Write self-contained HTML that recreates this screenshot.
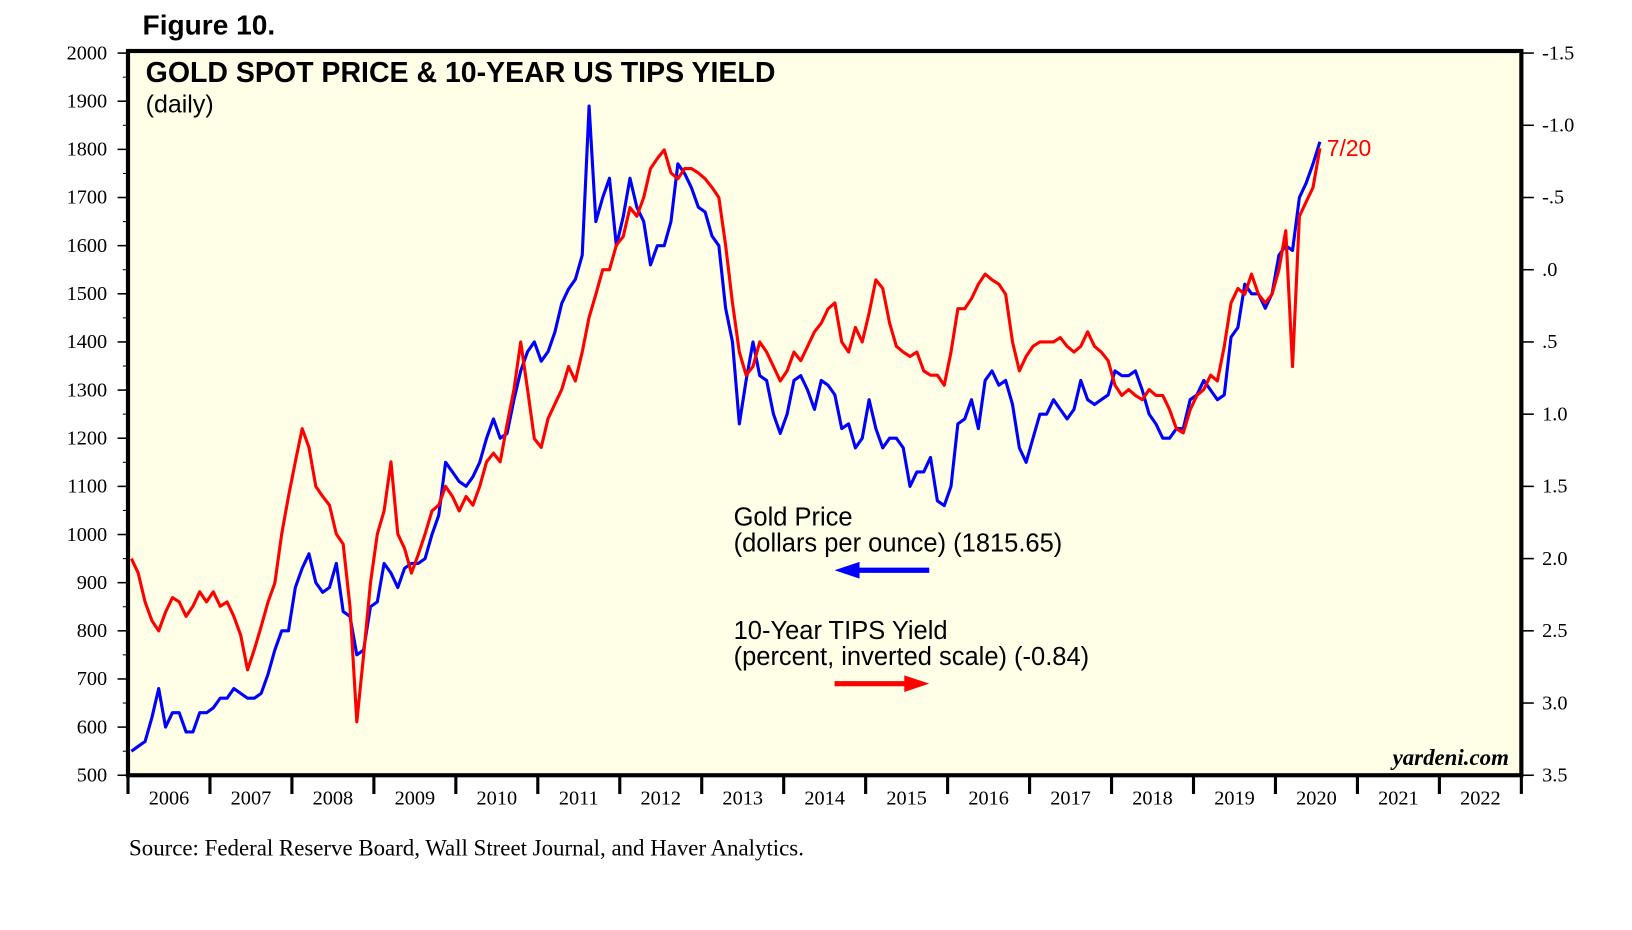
<!DOCTYPE html>
<html><head><meta charset="utf-8"><style>
html,body{margin:0;padding:0;background:#fff;}
svg{display:block;}
</style></head><body>
<svg id="chart" width="1632" height="930" xmlns="http://www.w3.org/2000/svg">
<g transform="scale(1.0406)">
<text x="137" y="33" font-family="Liberation Sans, sans-serif" font-weight="bold" font-size="27">Figure 10.</text>
<rect x="123" y="49" width="1339" height="696" fill="#fffee6" stroke="#000" stroke-width="4"/>
<text x="140" y="79" font-family="Liberation Sans, sans-serif" font-weight="bold" font-size="27.4">GOLD SPOT PRICE &amp; 10-YEAR US TIPS YIELD</text>
<text x="140" y="108" font-family="Liberation Sans, sans-serif" font-size="24">(daily)</text>
<g id="axes"></g>
<g id="series"></g>
<text x="705" y="505" font-family="Liberation Sans, sans-serif" font-size="24.5">Gold Price</text>
<text x="705" y="530" font-family="Liberation Sans, sans-serif" font-size="24.5">(dollars per ounce) (1815.65)</text>
<g><line x1="820" y1="548" x2="893" y2="548" stroke="#0000ff" stroke-width="5"/><polygon points="802,548 826,540 826,556" fill="#0000ff"/></g>
<text x="705" y="614" font-family="Liberation Sans, sans-serif" font-size="24.5">10-Year TIPS Yield</text>
<text x="705" y="639" font-family="Liberation Sans, sans-serif" font-size="24.5">(percent, inverted scale) (-0.84)</text>
<g><line x1="802" y1="657" x2="875" y2="657" stroke="#ff0000" stroke-width="5"/><polygon points="893,657 869,649 869,665" fill="#ff0000"/></g>
<text x="1275" y="150" font-family="Liberation Sans, sans-serif" font-size="22" fill="#ff0000">7/20</text>
<text x="1450" y="735" text-anchor="end" font-family="Liberation Serif, serif" font-style="italic" font-weight="bold" font-size="22">yardeni.com</text>
<text x="124" y="822" font-family="Liberation Serif, serif" font-size="22">Source: Federal Reserve Board, Wall Street Journal, and Haver Analytics.</text>
</g>
</svg>
<script>
const years = [2006,2007,2008,2009,2010,2011,2012,2013,2014,2015,2016,2017,2018,2019,2020,2021,2022];
const leftTicks = [500,600,700,800,900,1000,1100,1200,1300,1400,1500,1600,1700,1800,1900,2000];
const rightTicks = [-1.5,-1.0,-0.5,0,0.5,1.0,1.5,2.0,2.5,3.0,3.5];
const rightTickLabels = ["-1.5","-1.0","-.5",".0",".5","1.0","1.5","2.0","2.5","3.0","3.5"];
const goldPrice = [
550,560,570,620,680,600,630,630,590,590,630,630,
640,660,660,680,670,660,660,670,710,760,800,800,
890,930,960,900,880,890,940,840,830,750,760,850,
860,940,920,890,930,940,940,950,1000,1040,1150,1130,
1110,1100,1120,1150,1200,1240,1200,1210,1280,1340,1380,1400,
1360,1380,1420,1480,1510,1530,1580,1890,1650,1700,1740,1600,
1660,1740,1680,1650,1560,1600,1600,1650,1770,1750,1720,1680,
1670,1620,1600,1470,1400,1230,1320,1400,1330,1320,1250,1210,
1250,1320,1330,1300,1260,1320,1310,1290,1220,1230,1180,1200,
1280,1220,1180,1200,1200,1180,1100,1130,1130,1160,1070,1060,
1100,1230,1240,1280,1220,1320,1340,1310,1320,1270,1180,1150,
1200,1250,1250,1280,1260,1240,1260,1320,1280,1270,1280,1290,
1340,1330,1330,1340,1300,1250,1230,1200,1200,1220,1220,1280,
1290,1320,1300,1280,1290,1410,1430,1520,1500,1500,1470,1500,
1580,1600,1590,1700,1730,1770,1815.65];
const tipsYield = [
2.0,2.1,2.3,2.43,2.5,2.37,2.27,2.3,2.4,2.33,2.23,2.3,
2.23,2.33,2.3,2.4,2.53,2.77,2.63,2.47,2.3,2.17,1.83,1.57,
1.33,1.1,1.23,1.5,1.57,1.63,1.83,1.9,2.33,3.13,2.67,2.17,
1.83,1.67,1.33,1.83,1.93,2.1,1.97,1.83,1.67,1.63,1.5,1.57,
1.67,1.57,1.63,1.5,1.33,1.27,1.33,1.07,0.83,0.5,0.83,1.17,
1.23,1.03,0.93,0.83,0.67,0.77,0.57,0.33,0.17,0.0,0.0,-0.17,
-0.23,-0.43,-0.37,-0.5,-0.7,-0.77,-0.83,-0.67,-0.63,-0.7,-0.7,-0.67,
-0.63,-0.57,-0.5,-0.17,0.23,0.57,0.73,0.67,0.5,0.57,0.67,0.77,
0.7,0.57,0.63,0.53,0.43,0.37,0.27,0.23,0.5,0.57,0.4,0.5,
0.3,0.07,0.13,0.37,0.53,0.57,0.6,0.57,0.7,0.73,0.73,0.8,
0.57,0.27,0.27,0.2,0.1,0.03,0.07,0.1,0.17,0.5,0.7,0.6,
0.53,0.5,0.5,0.5,0.47,0.53,0.57,0.53,0.43,0.53,0.57,0.63,
0.8,0.87,0.83,0.87,0.9,0.83,0.87,0.87,0.97,1.1,1.13,0.97,
0.87,0.83,0.73,0.77,0.53,0.23,0.13,0.17,0.03,0.17,0.23,0.17,
0.0,-0.27,0.67,-0.37,-0.47,-0.57,-0.84];

const NS = "http://www.w3.org/2000/svg";
const X0 = 123, X1 = 1462, Y0 = 51, Y1 = 745;
const yearW = (X1 - X0) / years.length;
const xMonth = i => X0 + (i + 0.5) / 12 * yearW;
const yLeft = v => Y1 - (v - 500) / 1500 * (Y1 - Y0);
const yRight = v => Y0 + (v + 1.5) / 5 * (Y1 - Y0);
const axes = document.getElementById('axes');
const series = document.getElementById('series');
function mk(tag, attrs, parent) {
  const e = document.createElementNS(NS, tag);
  for (const k in attrs) e.setAttribute(k, attrs[k]);
  parent.appendChild(e);
  return e;
}
leftTicks.forEach((v, i) => {
  const y = yLeft(v);
  const t = mk('line', {x1: X0 - 10, x2: X0, y1: y, y2: y, stroke: '#000', 'stroke-width': 1.5}, axes);
  
  
  if (i < leftTicks.length - 1) {
    const ym = yLeft(v + 50);
    const m = mk('line', {x1: X0 - 5, x2: X0, y1: ym, y2: ym, stroke: '#000', 'stroke-width': 1}, axes);
    
    
  }
  const l = mk('text', {x: X0 - 20, y: y + 6, 'text-anchor': 'end', 'font-family': 'Liberation Serif, serif', 'font-size': 19.5}, axes);
  l.textContent = v;
  
  
});
rightTicks.forEach((v, i) => {
  const y = yRight(v);
  const t = mk('line', {x1: X1, x2: X1 + 12, y1: y, y2: y, stroke: '#000', 'stroke-width': 1.5}, axes);
  
  
  const l = mk('text', {x: X1 + 20, y: y + 6, 'font-family': 'Liberation Serif, serif', 'font-size': 19.5}, axes);
  l.textContent = rightTickLabels[i];
  
  
});
years.forEach((yr, i) => {
  const x = X0 + i * yearW;
  const t = mk('line', {x1: x, x2: x, y1: Y1, y2: Y1 + 18, stroke: '#000', 'stroke-width': 3}, axes);
  
  
  const l = mk('text', {x: x + yearW / 2, y: Y1 + 28, 'text-anchor': 'middle', 'font-family': 'Liberation Serif, serif', 'font-size': 19.5}, axes);
  l.textContent = yr;
  
  
});
const endTick = mk('line', {x1: X1, x2: X1, y1: Y1, y2: Y1 + 18, stroke: '#000', 'stroke-width': 3}, axes);



const goldPts = goldPrice.map((v, i) => xMonth(i).toFixed(1) + ',' + yLeft(v).toFixed(1)).join(' ');
const goldLine = mk('polyline', {points: goldPts, fill: 'none', stroke: '#0000ff', 'stroke-width': 3, 'stroke-linejoin': 'round'}, series);


const tipsPts = tipsYield.map((v, i) => xMonth(i).toFixed(1) + ',' + yRight(v).toFixed(1)).join(' ');
const tipsLine = mk('polyline', {points: tipsPts, fill: 'none', stroke: '#ff0000', 'stroke-width': 3, 'stroke-linejoin': 'round'}, series);


</script>
</body></html>
